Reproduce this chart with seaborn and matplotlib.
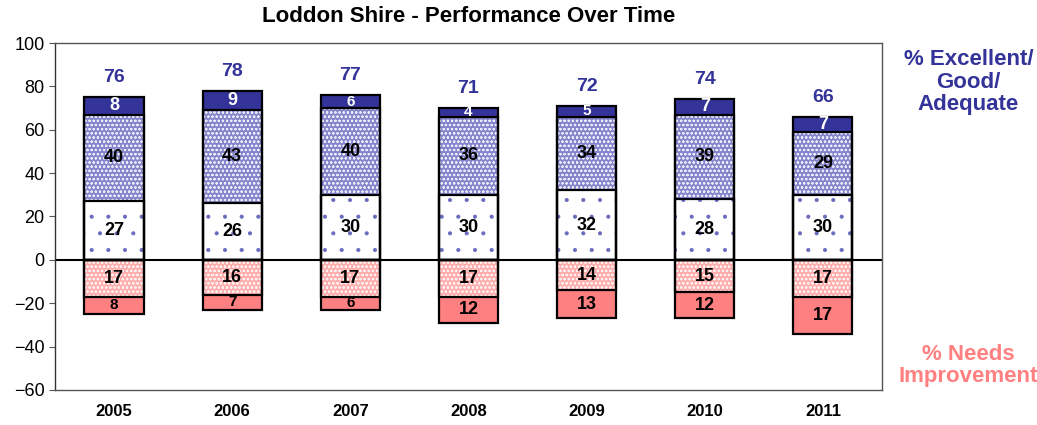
import matplotlib
matplotlib.use("Agg")
import matplotlib.pyplot as plt
import seaborn as sns
import pandas as pd
import numpy as np

years = ["2005", "2006", "2007", "2008", "2009", "2010", "2011"]
excellent = [8, 9, 6, 4, 5, 7, 7]
good = [40, 43, 40, 36, 34, 39, 29]
adequate = [27, 26, 30, 30, 32, 28, 30]
needs_light = [17, 16, 17, 17, 14, 15, 17]
needs_dark = [8, 7, 6, 12, 13, 12, 17]
totals = [76, 78, 77, 71, 72, 74, 66]

BLUE = "#333399"
RED = "#ff8080"

sns.set_style("white")
plt.rcParams["font.family"] = ["Liberation Sans", "DejaVu Sans"]
plt.rcParams["hatch.linewidth"] = 0.5
plt.rcParams["text.color"] = "black"
plt.rcParams["xtick.color"] = "black"
plt.rcParams["ytick.color"] = "black"

df = pd.DataFrame({"year": years})
df["top"] = np.array(adequate) + np.array(good) + np.array(excellent)
df["mid"] = np.array(adequate) + np.array(good)
df["low"] = np.array(adequate)
df["neg_all"] = -(np.array(needs_light) + np.array(needs_dark))
df["neg_light"] = -np.array(needs_light)

fig = plt.figure(figsize=(10.37, 4.25), dpi=100)
ax = fig.add_axes([0.053, 0.0824, 0.7975, 0.8164])

# layers drawn largest first so the smaller ones sit on top
layers = [
    ("top", BLUE, BLUE, None),
    ("mid", "#8585cc", "#ececfa", "oooo"),
    ("low", "white", "#6a6abf", "."),
    ("neg_all", RED, RED, None),
    ("neg_light", "#ffadad", "#fff2f2", "oooo"),
]
for col, face, hatch_col, hatch in layers:
    n0 = len(ax.patches)
    sns.barplot(data=df, x="year", y=col, color=face, saturation=1,
                width=0.5, edgecolor=hatch_col, linewidth=0, ax=ax)
    for p in ax.patches[n0:]:
        p.set_facecolor(face)
        if hatch:
            p.set_hatch(hatch)
            p.set_edgecolor(hatch_col)

# black outlines
for col in ["top", "mid", "low", "neg_all", "neg_light"]:
    sns.barplot(data=df, x="year", y=col, fill=False, width=0.5,
                edgecolor="black", linewidth=1.6, ax=ax)

# segment labels
def seg_labels(bottoms, vals, color, small=9):
    for i, (b, v) in enumerate(zip(bottoms, vals)):
        size = 13 if abs(v) >= small else 11
        ax.text(i, b + v / 2, str(abs(v)), ha="center", va="center",
                fontsize=size, fontweight="bold", color=color)

seg_labels([0] * 7, adequate, "black")
seg_labels(adequate, good, "black")
seg_labels(df["mid"], excellent, "white", small=7)
seg_labels([0] * 7, [-v for v in needs_light], "black")
seg_labels([-v for v in needs_light], [-v for v in needs_dark], "black")

for i, (t, h) in enumerate(zip(totals, df["top"])):
    ax.annotate(str(t), (i, h), xytext=(0, 8), textcoords="offset points",
                ha="center", va="bottom", fontsize=14, fontweight="bold",
                color=BLUE)

ax.axhline(0, color="black", linewidth=1.5)
ax.set_ylim(-60, 100)
ax.set_xlim(-0.5, 6.5)
ax.set_yticks(range(-60, 101, 20))
ax.set_xlabel("")
ax.set_ylabel("")
ax.tick_params(axis="y", length=4, width=0.8, color="#555555", labelsize=13,
               direction="out", left=True)
ax.tick_params(axis="x", length=0, labelsize=12, pad=10)
for lab in ax.get_xticklabels():
    lab.set_fontweight("bold")
for s in ax.spines.values():
    s.set_visible(True)
    s.set_color("#555555")
    s.set_linewidth(1.0)
ax.spines["left"].set_color("#333333")

fig.text(0.452, 0.96, "Loddon Shire - Performance Over Time", ha="center",
         va="center", fontsize=16, fontweight="bold")

fig.text(0.934, 0.807, "% Excellent/\nGood/\nAdequate", ha="center", va="center",
         fontsize=16, fontweight="bold", color=BLUE, linespacing=1.1)
fig.text(0.934, 0.14, "% Needs\nImprovement", ha="center", va="center",
         fontsize=16, fontweight="bold", color=RED, linespacing=1.1)

fig.savefig("out.png", dpi=100)
